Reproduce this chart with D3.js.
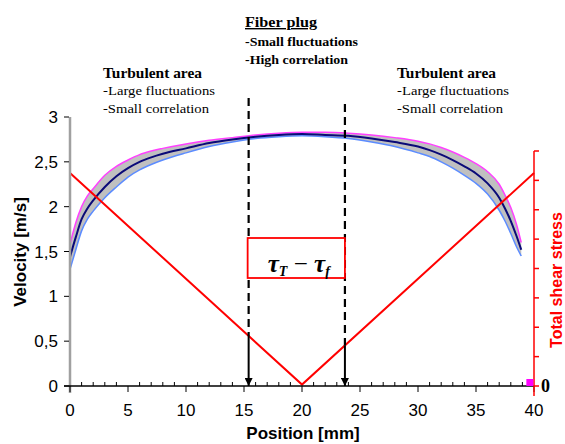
<!DOCTYPE html>
<html><head><meta charset="utf-8">
<script src="https://cdn.jsdelivr.net/npm/d3@7"></script>
<style>body{margin:0;background:#fff}svg{display:block}</style>
</head><body>
<svg id="c" width="565" height="444"></svg>
<script>
const positions = [0,0.5,1,1.5,2,3,4,5,6,7,8,10,12,14,16,18,20,22,24,26,28,30,31,32,33,34,35,36,37,37.5,38,38.5,38.9];
const meanVel   = [1.44,1.66,1.86,1.98,2.07,2.22,2.34,2.43,2.5,2.55,2.59,2.65,2.71,2.75,2.78,2.8,2.81,2.8,2.79,2.76,2.72,2.67,2.63,2.58,2.52,2.45,2.37,2.26,2.1,1.98,1.84,1.67,1.52];
const upperVel  = [1.58,1.82,2.0,2.12,2.2,2.35,2.45,2.52,2.58,2.62,2.65,2.7,2.74,2.77,2.8,2.82,2.83,2.83,2.82,2.8,2.77,2.73,2.7,2.66,2.61,2.55,2.48,2.39,2.25,2.13,1.99,1.8,1.6];
const lowerVel  = [1.3,1.52,1.73,1.86,1.95,2.1,2.22,2.33,2.41,2.47,2.52,2.6,2.67,2.72,2.76,2.78,2.79,2.78,2.76,2.72,2.67,2.6,2.56,2.5,2.43,2.35,2.26,2.14,1.96,1.84,1.7,1.55,1.45];
const stressPos = [0,20,40];
const stressVal = [7.25,0.05,7.25];
const plugBounds = [15.4,23.7];
const velTicks = [0,0.5,1,1.5,2,2.5,3];
const posTicks = [0,5,10,15,20,25,30,35,40];
const markerPoint = [39.6,0];

const svg = d3.select("#c");
const x = d3.scaleLinear().domain([0,40]).range([70,534]);
const y = d3.scaleLinear().domain([0,3]).range([386,117]);
const ys = d3.scaleLinear().domain([0,8]).range([386,151]);
const fmt = d => String(d).replace(".", ",");

// Annotations
const serif = "'Liberation Serif','Times New Roman',serif";
function block(x0, lines){
  lines.forEach(l=>{
    const t = svg.append("text").attr("x",x0).attr("y",l.y).attr("font-family",serif)
      .attr("font-size",l.s).attr("font-weight",l.b?"bold":"normal").attr("fill","#000")
      .attr("textLength",l.w).attr("lengthAdjust","spacingAndGlyphs").text(l.t);
    if(l.u) t.attr("text-decoration","underline");
  });
}
block(245,[{t:"Fiber plug",y:27,s:14,b:1,u:1,w:72},{t:"-Small fluctuations",y:46,s:13,b:1,w:113},{t:"-High correlation",y:64,s:13,b:1,w:103}]);
block(103,[{t:"Turbulent area",y:78,s:14,b:1,w:99},{t:"-Large fluctuations",y:95,s:13,w:112},{t:"-Small correlation",y:113,s:13,w:106}]);
block(397,[{t:"Turbulent area",y:78,s:14,b:1,w:99},{t:"-Large fluctuations",y:95,s:13,w:112},{t:"-Small correlation",y:113,s:13,w:106}]);

// band
const pts = positions.map((p,i)=>({p, m:meanVel[i], u:upperVel[i], l:lowerVel[i]}));
svg.append("path").datum(pts).attr("fill","#c0c0c0")
  .attr("d", d3.area().x(d=>x(d.p)).y0(d=>y(d.l)).y1(d=>y(d.u)).curve(d3.curveMonotoneX));
svg.append("path").datum(pts).attr("fill","none").attr("stroke","#ff40ff").attr("stroke-width",1.5)
  .attr("d", d3.line().x(d=>x(d.p)).y(d=>y(d.u)).curve(d3.curveMonotoneX));
svg.append("path").datum(pts).attr("fill","none").attr("stroke","#5c8cff").attr("stroke-width",1.5)
  .attr("d", d3.line().x(d=>x(d.p)).y(d=>y(d.l)).curve(d3.curveMonotoneX));
svg.append("path").datum(pts).attr("fill","none").attr("stroke","#0a0a78").attr("stroke-width",2)
  .attr("d", d3.line().x(d=>x(d.p)).y(d=>y(d.m)).curve(d3.curveMonotoneX));

// stress V line
const sPts = stressPos.map((p,i)=>[p,stressVal[i]]);
svg.append("path").datum(sPts).attr("fill","none").attr("stroke","#ff0000").attr("stroke-width",2)
  .attr("d", d3.line().x(d=>x(d[0])).y(d=>ys(d[1])));
const stressAt = d3.scaleLinear().domain(stressPos).range(stressVal);

// arrow marker
svg.append("defs").append("marker").attr("id","arr").attr("viewBox","0 0 10 10").attr("refX",10).attr("refY",5)
  .attr("markerWidth",4).attr("markerHeight",4).attr("orient","auto")
  .append("path").attr("d","M0,0L10,5L0,10z").attr("fill","#000");

const dashTops = [98,104];
plugBounds.forEach((b,i)=>{
  const xs = x(b), yr = ys(stressAt(b));
  svg.append("line").attr("x1",xs).attr("x2",xs).attr("y1",dashTops[i]).attr("y2",yr)
    .attr("stroke","#000").attr("stroke-width",2.2).attr("stroke-dasharray","8,5");
  svg.append("line").attr("x1",xs).attr("x2",xs).attr("y1",yr).attr("y2",y(0))
    .attr("stroke","#000").attr("stroke-width",2).attr("marker-end","url(#arr)");
});

// box
svg.append("rect").attr("x",x(plugBounds[0])-1).attr("y",238).attr("width",x(plugBounds[1])-x(plugBounds[0])+1).attr("height",40)
  .attr("fill","#fff").attr("stroke","#ff0000").attr("stroke-width",1.8);
const tt = svg.append("text").attr("x",(x(plugBounds[0])+x(plugBounds[1]))/2+2).attr("y",272).attr("text-anchor","middle")
  .attr("font-family",serif).attr("font-size",25).attr("font-style","italic").attr("font-weight","bold");
tt.append("tspan").text("τ");
tt.append("tspan").attr("font-size",14).attr("dy",4).text("T");
tt.append("tspan").attr("dy",-4).attr("font-weight","normal").attr("font-style","normal").text(" − ");
tt.append("tspan").text("τ");
tt.append("tspan").attr("font-size",14).attr("dy",4).text("f");

// axes
const sans = "'Liberation Sans',Arial,sans-serif";
svg.append("line").attr("x1",x(0)).attr("x2",x(0)).attr("y1",y(3)).attr("y2",393).attr("stroke","#a0a0a0").attr("stroke-width",2.5);
const ya = svg.append("g");
velTicks.forEach(v=>{
  ya.append("line").attr("x1",x(0)-6).attr("x2",x(0)-1).attr("y1",y(v)).attr("y2",y(v)).attr("stroke","#000").attr("stroke-width",1);
  ya.append("text").attr("x",x(0)-12).attr("y",y(v)+6).attr("text-anchor","end").attr("font-family",sans).attr("font-size",17).attr("fill","#000").text(fmt(v));
});
svg.append("line").attr("x1",64).attr("x2",x(40)).attr("y1",y(0)).attr("y2",y(0)).attr("stroke","#000").attr("stroke-width",1.5);
d3.range(0,41).forEach(p=>{
  const major = p%5===0;
  svg.append("line").attr("x1",x(p)).attr("x2",x(p)).attr("y1",major?y(0):y(0)-4).attr("y2",major?y(0)+6:y(0))
    .attr("stroke","#000").attr("stroke-width",1);
});
posTicks.forEach(p=>{
  svg.append("text").attr("x",x(p)).attr("y",y(0)+30).attr("text-anchor","middle").attr("font-family",sans).attr("font-size",17).text(p);
});
svg.append("text").attr("x",303).attr("y",439).attr("text-anchor","middle").attr("font-family",sans).attr("font-size",17).attr("font-weight","bold").text("Position [mm]");
svg.append("text").attr("transform","translate(26,252) rotate(-90)").attr("text-anchor","middle").attr("font-family",sans).attr("font-size",17).attr("font-weight","bold").text("Velocity [m/s]");

// right stress axis
svg.append("line").attr("x1",x(40)).attr("x2",x(40)).attr("y1",ys(8)).attr("y2",396).attr("stroke","#ff0000").attr("stroke-width",1.5);
d3.range(0,9).forEach(v=>{
  svg.append("line").attr("x1",x(40)).attr("x2",x(40)+5).attr("y1",ys(v)).attr("y2",ys(v)).attr("stroke","#ff0000").attr("stroke-width",1.5);
});
svg.append("text").attr("x",x(40)+7).attr("y",ys(0)+6).attr("font-family",serif).attr("font-size",18).attr("font-weight","bold").text("0");
svg.append("text").attr("transform","translate(562,280) rotate(-90)").attr("text-anchor","middle").attr("font-family",sans)
  .attr("font-size",16).attr("font-weight","bold").attr("fill","#ff0000").text("Total shear stress");

svg.append("rect").attr("x",x(markerPoint[0])-3).attr("y",ys(markerPoint[1])-7).attr("width",7).attr("height",7).attr("fill","#ff00ff");
</script>
</body></html>
